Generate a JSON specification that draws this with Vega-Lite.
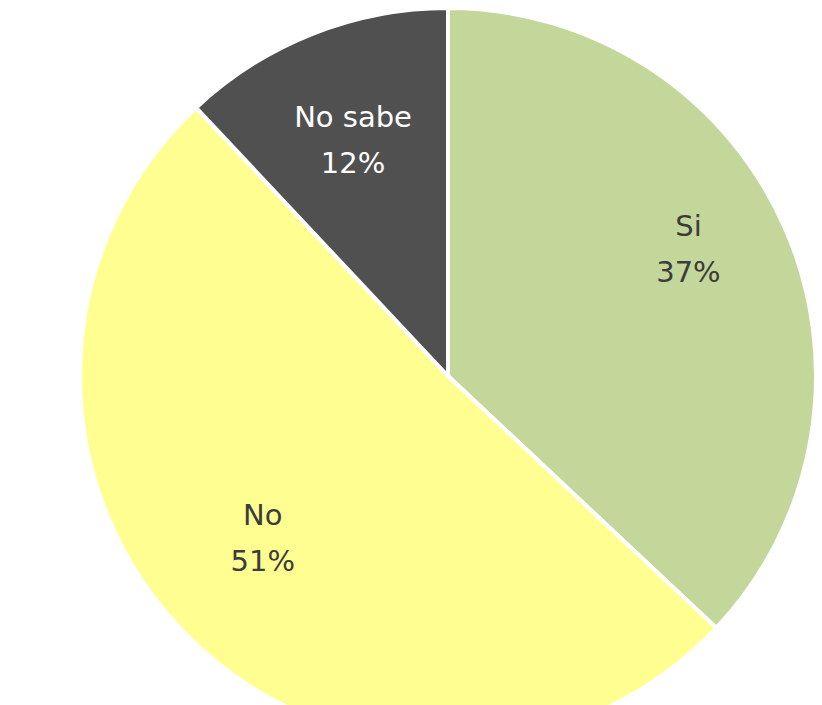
{
  "$schema": "https://vega.github.io/schema/vega-lite/v6.json",
  "width": 896,
  "height": 740,
  "padding": 0,
  "background": "white",
  "view": {"stroke": null},
  "data": {
    "values": [
      {"categoria": "Si", "porcentaje": 37, "orden": 1, "etiqueta": "Si\n37%"},
      {"categoria": "No", "porcentaje": 51, "orden": 2, "etiqueta": "No\n51%"},
      {"categoria": "No sabe", "porcentaje": 12, "orden": 3, "etiqueta": "No sabe\n12%"}
    ]
  },
  "encoding": {
    "theta": {"field": "porcentaje", "type": "quantitative", "stack": true},
    "order": {"field": "orden", "type": "quantitative"}
  },
  "layer": [
    {
      "mark": {"type": "arc", "outerRadius": 368, "stroke": "white", "strokeWidth": 4},
      "encoding": {
        "color": {
          "field": "categoria",
          "type": "nominal",
          "scale": {"domain": ["Si", "No", "No sabe"], "range": ["#C4D79B", "#FFFF91", "#505050"]},
          "legend": null
        }
      }
    },
    {
      "mark": {"type": "text", "radius": 262, "dy": -45, "fontSize": 29, "font": "DejaVu Sans", "lineBreak": "\n", "lineHeight": 46, "align": "center", "baseline": "middle", "color": "#3C3C3C"},
      "encoding": {
        "text": {"field": "etiqueta", "type": "nominal"},
        "opacity": {"condition": {"test": "datum.categoria === 'No sabe'", "value": 0}, "value": 1}
      }
    },
    {
      "mark": {"type": "text", "radius": 258, "dy": -18, "fontSize": 29, "font": "DejaVu Sans", "lineBreak": "\n", "lineHeight": 46, "align": "center", "baseline": "middle", "color": "#FFFFFF"},
      "encoding": {
        "text": {"field": "etiqueta", "type": "nominal"},
        "opacity": {"condition": {"test": "datum.categoria === 'No sabe'", "value": 1}, "value": 0}
      }
    }
  ]
}
